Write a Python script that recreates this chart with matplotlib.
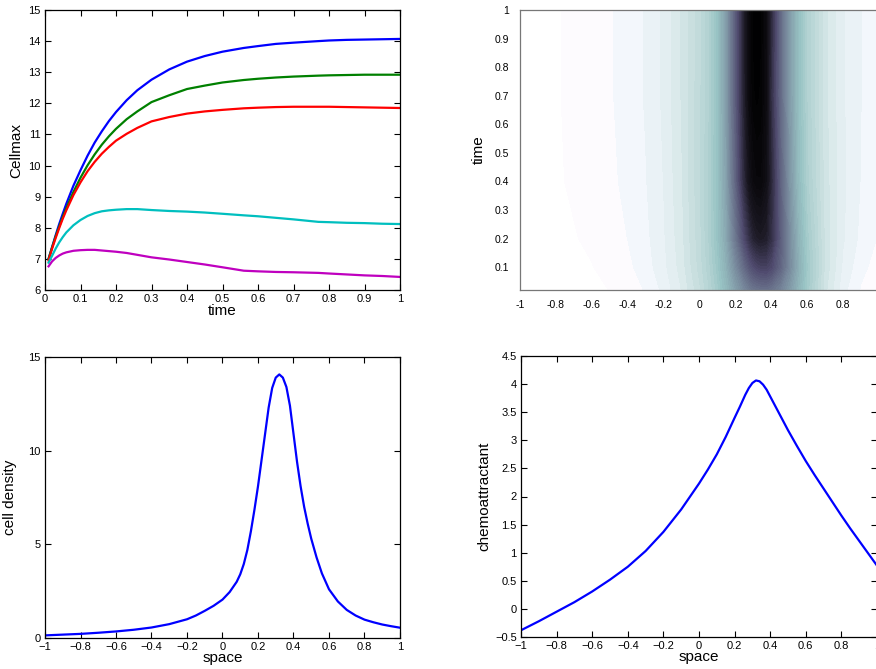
import numpy as np
import matplotlib
matplotlib.use("Agg")
import matplotlib.pyplot as plt
from matplotlib.colors import LinearSegmentedColormap

plt.rcParams['font.family'] = ['Liberation Sans', 'DejaVu Sans']

# --- maximum cell density over time for five parameter runs ---
time = [0.01, 0.02, 0.03, 0.04, 0.05, 0.06, 0.08, 0.1, 0.12, 0.14, 0.16, 0.18, 0.2, 0.23,
        0.26, 0.3, 0.35, 0.4, 0.45, 0.5, 0.56, 0.6, 0.65, 0.7, 0.77, 0.8, 0.85, 0.9, 0.95, 1.0]
cellmax_blue = [7.0, 7.38, 7.76, 8.12, 8.45, 8.77, 9.35, 9.85, 10.32, 10.74, 11.1, 11.43, 11.72,
                12.1, 12.42, 12.76, 13.09, 13.34, 13.52, 13.66, 13.78, 13.84, 13.91, 13.95,
                14.0, 14.02, 14.04, 14.05, 14.06, 14.07]
cellmax_green = [7.0, 7.37, 7.72, 8.04, 8.35, 8.63, 9.15, 9.61, 10.01, 10.36, 10.67, 10.94, 11.18,
                 11.49, 11.74, 12.04, 12.26, 12.46, 12.57, 12.67, 12.75, 12.79, 12.83, 12.86,
                 12.89, 12.9, 12.91, 12.92, 12.92, 12.92]
cellmax_red = [6.95, 7.33, 7.67, 7.99, 8.29, 8.56, 9.05, 9.46, 9.82, 10.12, 10.38, 10.6, 10.8,
               11.02, 11.21, 11.42, 11.56, 11.67, 11.74, 11.79, 11.84, 11.86, 11.88, 11.89,
               11.89, 11.89, 11.88, 11.87, 11.86, 11.85]
cellmax_cyan = [6.88, 7.1, 7.33, 7.53, 7.7, 7.85, 8.08, 8.25, 8.38, 8.47, 8.53, 8.56, 8.58,
                8.6, 8.6, 8.57, 8.54, 8.52, 8.49, 8.45, 8.4, 8.37, 8.32, 8.27,
                8.19, 8.18, 8.16, 8.15, 8.13, 8.12]
cellmax_magenta = [6.76, 6.92, 7.03, 7.11, 7.17, 7.21, 7.26, 7.28, 7.29, 7.29, 7.27, 7.25, 7.23,
                   7.19, 7.13, 7.05, 6.98, 6.9, 6.82, 6.73, 6.62, 6.6, 6.58, 6.57,
                   6.55, 6.53, 6.5, 6.47, 6.45, 6.42]

# --- cell density at final time ---
x_profile = [-1.0, -0.9, -0.8, -0.7, -0.6, -0.5, -0.4, -0.3, -0.2, -0.15, -0.1, -0.05, 0.0,
             0.04, 0.08, 0.1, 0.12, 0.14, 0.16, 0.18, 0.2, 0.22, 0.24, 0.26, 0.28, 0.3, 0.32,
             0.34, 0.36, 0.38, 0.4, 0.42, 0.44, 0.46, 0.48, 0.5, 0.53, 0.56, 0.6, 0.65, 0.7,
             0.75, 0.8, 0.85, 0.9, 0.95, 1.0]
cell_density = [0.14, 0.18, 0.22, 0.28, 0.35, 0.44, 0.56, 0.74, 1.0, 1.2, 1.45, 1.72, 2.05,
                2.45, 3.0, 3.4, 3.95, 4.7, 5.7, 6.85, 8.1, 9.5, 10.9, 12.3, 13.35, 13.9, 14.07,
                13.9, 13.4, 12.4, 10.9, 9.4, 8.1, 7.0, 6.1, 5.3, 4.3, 3.45, 2.6, 1.95, 1.5,
                1.2, 0.98, 0.84, 0.72, 0.63, 0.55]

# --- space-time cell density (rows = times, columns = space) ---
space = [-1, -0.8, -0.6, -0.4, -0.3, -0.2, -0.1, 0, 0.05, 0.1, 0.15, 0.2, 0.25, 0.28,
         0.3, 0.32, 0.34, 0.37, 0.4, 0.45, 0.5, 0.55, 0.6, 0.7, 0.8, 0.9, 1.0]
snap_times = [0.02, 0.1, 0.2, 0.4, 0.7, 1.0]
density_t002 = [0.04, 0.08, 0.16, 0.33, 0.5, 0.78, 1.2, 1.85, 2.35, 3.0, 3.9, 5.0, 6.1, 6.7,
                7.0, 7.15, 7.25, 7.3, 7.1, 6.4, 5.3, 4.1, 3.0, 1.5, 0.8, 0.45, 0.28]
density_t01 = [0.07, 0.13, 0.23, 0.42, 0.6, 0.88, 1.3, 2.0, 2.5, 3.2, 4.3, 5.9, 7.6, 8.6,
               9.1, 9.45, 9.65, 9.72, 9.3, 7.9, 6.1, 4.4, 3.1, 1.6, 0.9, 0.55, 0.36]
density_t02 = [0.1, 0.17, 0.28, 0.48, 0.65, 0.92, 1.35, 2.05, 2.6, 3.4, 4.7, 6.9, 9.3, 10.6,
               11.3, 11.65, 11.8, 11.6, 10.6, 8.3, 6.0, 4.2, 2.95, 1.6, 0.98, 0.65, 0.45]
density_t04 = [0.13, 0.21, 0.33, 0.53, 0.7, 0.96, 1.4, 2.1, 2.6, 3.45, 5.0, 7.8, 11.0, 12.5,
               13.1, 13.34, 13.36, 12.7, 11.0, 8.0, 5.6, 3.8, 2.7, 1.55, 1.0, 0.7, 0.5]
density_t07 = [0.14, 0.22, 0.35, 0.56, 0.74, 1.0, 1.45, 2.07, 2.57, 3.42, 5.2, 8.2, 11.5, 13.3,
               13.8, 13.92, 13.8, 13.0, 10.6, 7.6, 5.3, 3.6, 2.6, 1.5, 0.98, 0.72, 0.54]
density_t1 = [0.14, 0.22, 0.35, 0.56, 0.74, 1.0, 1.45, 2.05, 2.55, 3.4, 5.2, 8.2, 11.5, 13.35,
              13.9, 14.07, 13.9, 13.0, 10.9, 7.6, 5.3, 3.6, 2.6, 1.5, 0.98, 0.72, 0.55]

# --- chemoattractant at final time ---
chem_space = [-1, -0.9, -0.8, -0.7, -0.6, -0.5, -0.4, -0.3, -0.2, -0.1, 0, 0.05, 0.1, 0.15,
              0.2, 0.23, 0.26, 0.28, 0.3, 0.32, 0.34, 0.36, 0.38, 0.4, 0.43, 0.46, 0.5, 0.55,
              0.6, 0.65, 0.7, 0.75, 0.8, 0.85, 0.9, 0.95, 1.0]
chemo = [-0.38, -0.22, -0.05, 0.12, 0.31, 0.52, 0.75, 1.03, 1.37, 1.77, 2.23, 2.48, 2.75, 3.06,
         3.4, 3.6, 3.81, 3.93, 4.02, 4.065, 4.05, 3.99, 3.9, 3.78, 3.6, 3.42, 3.18, 2.9,
         2.63, 2.38, 2.14, 1.9, 1.66, 1.43, 1.21, 0.99, 0.77]

W, H = 876, 669
fig = plt.figure(figsize=(W / 100, H / 100), dpi=100)


def px_axes(left, top, right, bottom):
    return fig.add_axes([left / W, 1 - bottom / H, (right - left) / W, (bottom - top) / H])


def matlab_style(ax):
    ax.tick_params(direction='in', top=True, right=True, length=4, width=0.8,
                   labelsize=8, pad=3)
    for s in ax.spines.values():
        s.set_linewidth(0.9)


space_ticks = np.arange(-1, 1.01, 0.2)
space_labels = ['\u22121', '\u22120.8', '\u22120.6', '\u22120.4', '\u22120.2', '0',
                '0.2', '0.4', '0.6', '0.8', '1']

# top left: Cellmax vs time
ax1 = px_axes(45, 10, 400, 290)
for vals, c in [(cellmax_blue, '#0000ff'), (cellmax_green, '#008000'), (cellmax_red, '#ff0000'),
                (cellmax_cyan, '#00bfbf'), (cellmax_magenta, '#bf00bf')]:
    ax1.plot(time, vals, color=c, lw=1.6)
ax1.set_xlim(0, 1)
ax1.set_ylim(6, 15)
ax1.set_xticks(np.arange(0, 1.01, 0.1))
ax1.set_xticklabels(['0', '0.1', '0.2', '0.3', '0.4', '0.5', '0.6', '0.7', '0.8', '0.9', '1'])
ax1.set_yticks(range(6, 16))
matlab_style(ax1)
ax1.set_xlabel('time', fontsize=11, labelpad=0)
ax1.set_ylabel('Cellmax', fontsize=11, labelpad=4)

# top right: space-time density map
cmap = LinearSegmentedColormap.from_list('densmap', [
    (0.0, (1, 1, 1)), (0.013, (1, 1, 1)), (0.016, (0.993, 0.985, 0.996)),
    (0.034, (0.99, 0.982, 0.995)), (0.037, (0.955, 0.97, 0.99)),
    (0.07, (0.9, 0.94, 0.95)), (0.13, (0.78, 0.87, 0.87)), (0.24, (0.6, 0.77, 0.77)),
    (0.45, (0.46, 0.52, 0.6)), (0.66, (0.31, 0.29, 0.43)), (0.85, (0.1, 0.09, 0.13)),
    (1.0, (0, 0, 0))])
dens = np.array([density_t002, density_t01, density_t02, density_t04, density_t07, density_t1])
ax2 = px_axes(520, 10, 879, 290)
ax2.contourf(space, snap_times, dens, levels=np.linspace(0, 14.1, 60), cmap=cmap,
             vmin=0, vmax=14.1)
ax2.set_xlim(-1, 1)
ax2.set_ylim(0.02, 1)
ax2.set_xticks([-1, -0.8, -0.6, -0.4, -0.2, 0, 0.2, 0.4, 0.6, 0.8])
ax2.set_xticklabels(['-1', '-0.8', '-0.6', '-0.4', '-0.2', '0', '0.2', '0.4', '0.6', '0.8'])
ax2.set_yticks([0.1, 0.2, 0.3, 0.4, 0.5, 0.6, 0.7, 0.8, 0.9, 1.0])
ax2.set_yticklabels(['0.1', '0.2', '0.3', '0.4', '0.5', '0.6', '0.7', '0.8', '0.9', '1'])
ax2.tick_params(length=0, labelsize=7.5)
ax2.tick_params(axis='x', pad=7)
ax2.tick_params(axis='y', pad=8)
for s in ax2.spines.values():
    s.set_color('#777777')
    s.set_linewidth(0.9)
ax2.set_ylabel('time', fontsize=11, labelpad=6)

# bottom left: cell density profile
ax3 = px_axes(45, 357, 400, 638)
ax3.plot(x_profile, cell_density, color='#0000ff', lw=1.6)
ax3.set_xlim(-1, 1)
ax3.set_ylim(0, 15)
ax3.set_xticks(space_ticks)
ax3.set_xticklabels(space_labels)
ax3.set_yticks([0, 5, 10, 15])
matlab_style(ax3)
ax3.set_xlabel('space', fontsize=11, labelpad=-1)
ax3.set_ylabel('cell density', fontsize=11, labelpad=8)

# bottom right: chemoattractant profile
ax4 = px_axes(521, 356, 877, 637)
ax4.plot(chem_space, chemo, color='#0000ff', lw=1.6)
ax4.set_xlim(-1, 1)
ax4.set_ylim(-0.5, 4.5)
ax4.set_xticks(space_ticks)
ax4.set_xticklabels(space_labels)
ax4.set_yticks(np.arange(-0.5, 4.51, 0.5))
ax4.set_yticklabels(['\u22120.5', '0', '0.5', '1', '1.5', '2', '2.5', '3', '3.5', '4', '4.5'])
matlab_style(ax4)
ax4.set_xlabel('space', fontsize=11, labelpad=-1)
ax4.set_ylabel('chemoattractant', fontsize=11, labelpad=3)

fig.savefig('out.png', dpi=100)
